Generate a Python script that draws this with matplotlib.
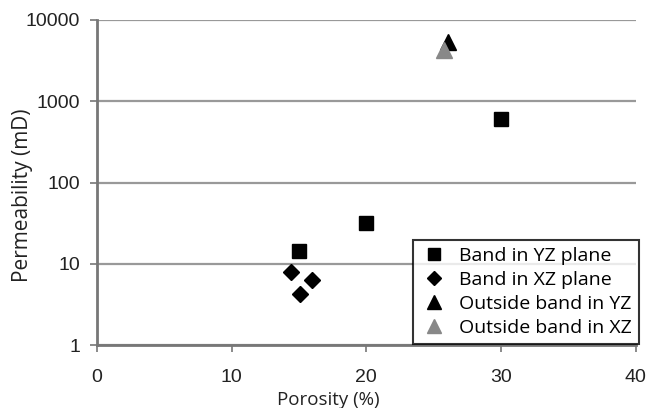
import numpy as np
import matplotlib
matplotlib.use("Agg")
import matplotlib.pyplot as plt

plt.rcParams['font.family'] = ['Liberation Sans', 'DejaVu Sans']

# data
yz_por = [15.0, 20.0, 30.0]
yz_perm = [14.5, 32, 600]
xz_por = [14.4, 15.1, 16.0]
xz_perm = [7.9, 4.3, 6.4]
out_yz_por = [26.1]
out_yz_perm = [5300]
out_xz_por = [25.8]
out_xz_perm = [4300]

fig = plt.figure(figsize=(6.5, 4.08), dpi=100)
ax = fig.add_axes([0.149, 0.154, 0.829, 0.797])

ax.set_yscale('log')
ax.set_xlim(0, 40)
ax.set_ylim(1, 10000)
ax.set_xticks([0, 10, 20, 30, 40])
ax.set_yticks([1, 10, 100, 1000, 10000])
ax.set_yticklabels(['1', '10', '100', '1000', '10000'])
ax.minorticks_off()
ax.yaxis.grid(True, color='#999999', linewidth=1.6)
ax.set_axisbelow(True)

for s in ['top', 'right']:
    ax.spines[s].set_visible(False)
for s in ['left', 'bottom']:
    ax.spines[s].set_color('#777777')
    ax.spines[s].set_linewidth(2)
ax.tick_params(colors='#777777', labelcolor='#222222', labelsize=14, width=1.2)
ax.tick_params(axis='y', length=5, pad=7)
ax.tick_params(axis='x', pad=12, length=5)

ax.plot(yz_por, yz_perm, 's', color='black', markersize=10, label='Band in YZ plane')
ax.plot(xz_por, xz_perm, 'D', color='black', markersize=8, label='Band in XZ plane')
ax.plot(out_yz_por, out_yz_perm, '^', color='black', markersize=11, label='Outside band in YZ')
ax.plot(out_xz_por, out_xz_perm, '^', color='#888888', markersize=11, label='Outside band in XZ')

ax.set_xlabel('Porosity (%)', fontsize=13.5, family=['Open Sans', 'DejaVu Sans'], color='#222222')
ax.set_ylabel('Permeability (mD)', fontsize=15, family=['Open Sans', 'DejaVu Sans'], color='#222222')
ax.xaxis.set_label_coords(0.429, -0.142)
ax.yaxis.set_label_coords(-0.118, 0.46)

leg = ax.legend(loc='lower right', bbox_to_anchor=(1.006, 0.005), frameon=True, fancybox=False,
                edgecolor='black', handletextpad=0.55, borderpad=0.35,
                labelspacing=0.3, borderaxespad=0, handlelength=1.5, markerscale=0.9,
                prop={'family': ['Open Sans', 'DejaVu Sans'], 'size': 14})
leg.get_frame().set_linewidth(1.5)

fig.savefig('out.png', dpi=100)
